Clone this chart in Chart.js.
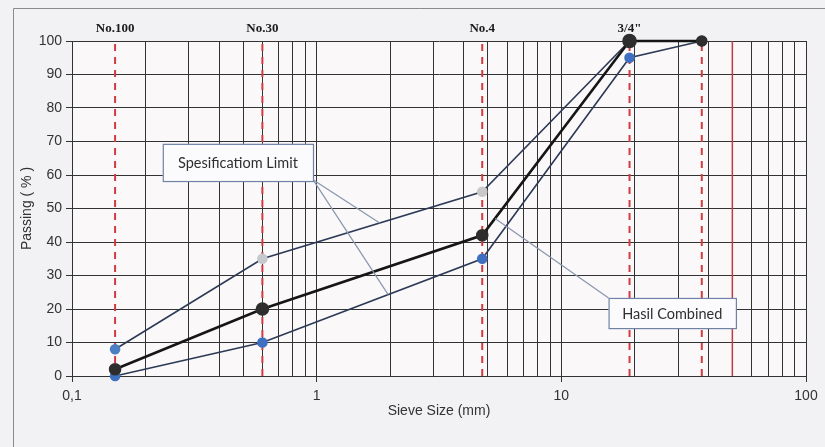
<!DOCTYPE html>
<html>
<head>
<meta charset="utf-8">
<script src="https://cdn.jsdelivr.net/npm/chart.js@4/dist/chart.umd.min.js"></script>
<style>
  html, body { margin:0; padding:0; background:#f2f1f3; }
  #wrap { width:825px; height:447px; position:relative; }
</style>
</head>
<body>
<div id="wrap"><canvas id="gradChart"></canvas></div>
<script>
// sieve sizes (mm) and passing percentages
const sieves = [0.15, 0.6, 4.75, 19, 37.5];
const upperLimit = [8, 35, 55, 100, 100];
const lowerLimit = [0, 10, 35, 95, 100];
const combined = [2, 20, 42, 100, 100];

// top labels for the sieve numbers
const sieveTop = [0.15, 0.6, 4.75, 19];
const sieveNames = ['No.100', 'No.30', 'No.4', '3/4"'];

// red marker lines (dashed) and the solid one at 2"
const sieveLines = [0.15, 0.6, 4.75, 19, 37.5];
const solidLines = [50];

const decades = [0.1, 1, 10, 100];
const decadeLabels = ['0,1', '1', '10', '100'];

const pts = (xs, ys) => xs.map((x, i) => ({x: x, y: ys[i]}));

const minorTicks = [];
decades.forEach((d, i) => {
  if (i === decades.length - 1) { minorTicks.push(d); return; }
  for (let k = 1; k <= 9; k++) minorTicks.push(d * k);
});

const gridDark = '#333333';
const gridRed = '#c99a9c';

const datasets = [
  {
    label: 'Combined', data: pts(sieves, combined),
    borderColor: '#161616', borderWidth: 2.6,
    pointBackgroundColor: '#2e2e2e', pointBorderColor: '#2e2e2e',
    pointRadius: [5, 5.5, 5, 6, 4.5], clip: false, order: 0
  },
  {
    label: 'Upper', data: pts(sieves, upperLimit),
    borderColor: '#2c3a56', borderWidth: 1.6,
    pointBackgroundColor: ['#4a7fc1', '#c5c8cc', '#c9c9c9', '#333', '#444'],
    pointBorderColor: ['#4a7fc1', '#c5c8cc', '#c9c9c9', '#333', '#444'],
    pointRadius: 4.5, clip: false, order: 1
  },
  {
    label: 'Lower', data: pts(sieves, lowerLimit),
    borderColor: '#2c3a56', borderWidth: 1.6,
    pointBackgroundColor: ['#3f6fc0', '#3f6fc0', '#3f6fc0', '#3f6fc0', '#444'],
    pointBorderColor: ['#3f6fc0', '#3f6fc0', '#3f6fc0', '#3f6fc0', '#444'],
    pointRadius: 4.5, clip: false, order: 2
  }
];
sieveLines.forEach(s => datasets.push({
  label: 'sieve', data: [{x: s, y: 0}, {x: s, y: 100}],
  borderColor: '#d23a40', borderWidth: 2, borderDash: [7, 6],
  pointRadius: 0, order: 5
}));
solidLines.forEach(s => datasets.push({
  label: 'sieve', data: [{x: s, y: 0}, {x: s, y: 100}],
  borderColor: '#c23a40', borderWidth: 1.5,
  pointRadius: 0, order: 5
}));

// callout boxes with leader lines, given in chart units
const callouts = [
  { text: 'Spesificatiom Limit', box: [0.235, 69.3, 0.966, 58.2],
    from: [0.966, 58.6], to: [[1.81, 45.7], [1.96, 24.3]] },
  { text: 'Hasil Combined', box: [15.6, 23.3, 51.7, 14.3],
    from: [15.6, 23.3], to: [[5.36, 47]] }
];

const paperPlugin = {
  id: 'paper',
  beforeDraw(chart) {
    const c = chart.ctx, a = chart.chartArea;
    c.save();
    c.fillStyle = '#f2f1f3';
    c.fillRect(0, 0, chart.width, chart.height);
    c.fillStyle = '#fbf8f9';
    c.fillRect(a.left, a.top, a.right - a.left, a.bottom - a.top);
    c.strokeStyle = '#8a8a8a';
    c.lineWidth = 1;
    c.beginPath();
    c.moveTo(13.5, chart.height); c.lineTo(13.5, 8.5); c.lineTo(chart.width, 8.5);
    c.stroke();
    c.restore();
  }
};

const calloutPlugin = {
  id: 'callouts',
  afterDatasetsDraw(chart) {
    const c = chart.ctx, xs = chart.scales.x, ys = chart.scales.y;
    c.save();
    callouts.forEach(o => {
      c.strokeStyle = '#8796ae';
      c.lineWidth = 1.2;
      const fx = xs.getPixelForValue(o.from[0]), fy = ys.getPixelForValue(o.from[1]);
      o.to.forEach(t => {
        c.beginPath();
        c.moveTo(fx, fy);
        c.lineTo(xs.getPixelForValue(t[0]), ys.getPixelForValue(t[1]));
        c.stroke();
      });
      const x0 = xs.getPixelForValue(o.box[0]), y0 = ys.getPixelForValue(o.box[1]);
      const x1 = xs.getPixelForValue(o.box[2]), y1 = ys.getPixelForValue(o.box[3]);
      c.fillStyle = '#fbfbfd';
      c.fillRect(x0, y0, x1 - x0, y1 - y0);
      c.strokeStyle = '#6f82a6';
      c.strokeRect(x0 + 0.5, y0 + 0.5, x1 - x0, y1 - y0);
      c.fillStyle = '#2f2f2f';
      c.font = '14.5px Lato';
      c.textAlign = 'center';
      c.textBaseline = 'middle';
      c.fillText(o.text, (x0 + x1) / 2, (y0 + y1) / 2 + 1);
    });
    c.restore();
  }
};

new Chart(document.getElementById('gradChart'), {
  type: 'line',
  data: { datasets: datasets },
  plugins: [paperPlugin, calloutPlugin],
  options: {
    responsive: true,
    maintainAspectRatio: false,
    animation: false,
    layout: { padding: { left: 15, right: 19, top: 0, bottom: 23 } },
    plugins: { legend: { display: false }, tooltip: { enabled: false } },
    scales: {
      x: {
        type: 'logarithmic', position: 'bottom', min: 0.1, max: 100,
        afterBuildTicks: s => { s.ticks = minorTicks.map(v => ({value: v})); },
        afterFit: s => { s.height = 48; },
        ticks: {
          autoSkip: false, maxRotation: 0, padding: 6,
          color: '#333', font: { family: 'Liberation Sans', size: 14 },
          callback: v => {
            const i = decades.findIndex(d => Math.abs(d - v) < d * 1e-6);
            return i >= 0 ? decadeLabels[i] : '';
          }
        },
        grid: {
          color: gridDark, lineWidth: 1, tickLength: 6,
          tickColor: ctx => decades.some(d => Math.abs(d - ctx.tick.value) < d * 1e-6) ? gridDark : 'rgba(0,0,0,0)'
        },
        border: { color: gridDark },
        title: { display: true, text: 'Sieve Size (mm)', color: '#333',
                 font: { family: 'Liberation Sans', size: 14 } }
      },
      xTop: {
        type: 'logarithmic', position: 'top', min: 0.1, max: 100,
        afterBuildTicks: s => { s.ticks = sieveTop.map(v => ({value: v})); },
        afterFit: s => { s.height = 41; },
        ticks: {
          autoSkip: false, maxRotation: 0, padding: 5,
          color: '#1a1a1a', font: { family: 'Liberation Serif', size: 13, weight: 'bold' },
          callback: (v, i) => sieveNames[i]
        },
        grid: { display: false, drawTicks: false },
        border: { display: false }
      },
      y: {
        min: 0, max: 100,
        afterFit: s => { s.width = 57; },
        ticks: {
          stepSize: 5, padding: 4, color: '#333',
          font: { family: 'Liberation Sans', size: 14 },
          callback: v => (v % 10 === 0 ? v : '')
        },
        grid: {
          lineWidth: 1, tickLength: 6,
          color: ctx => (ctx.tick.value % 10 === 0 ? gridDark : gridRed),
          tickColor: ctx => (ctx.tick.value % 10 === 0 ? gridDark : 'rgba(0,0,0,0)')
        },
        border: { color: gridDark },
        title: { display: true, text: 'Passing ( % )', color: '#333',
                 font: { family: 'Liberation Sans', size: 14 } }
      }
    }
  }
});
</script>
</body>
</html>
